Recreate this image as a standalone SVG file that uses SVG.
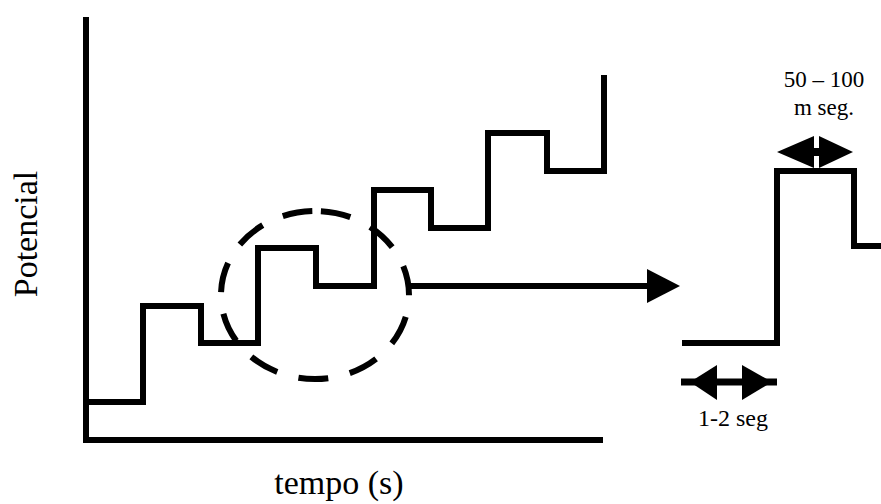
<svg xmlns="http://www.w3.org/2000/svg" width="881" height="504" viewBox="0 0 881 504">
<style>
.ln{fill:none;stroke:#000;stroke-width:6;stroke-linejoin:miter;stroke-linecap:butt}
.hd{fill:#000;stroke:none}
.t{font-family:"Liberation Serif","Times New Roman",serif;fill:#000}
</style>
<rect width="881" height="504" fill="#fff"/>
<g id="axes">
<polyline class="ln" points="86,17 86,440 603,440"/>
</g>
<g id="staircase">
<polyline class="ln" points="86,402 143,402 143,306 201,306 201,343 258,343 258,248 316,248 316,286 374,286 374,190 431,190 431,228 488,228 488,133 547,133 547,171 604,171 604,75"/>
</g>
<g id="zoom-circle">
<path class="ln" d="M315,211 A94,84 0 1 1 315,379 A94,84 0 1 1 315,211" stroke-dasharray="30 22" stroke-dashoffset="46"/>
</g>
<g id="connectors">
<line class="ln" x1="410" y1="286" x2="648" y2="286"/>
<polygon class="hd" points="647,269 680,286 647,303"/>
</g>
<g id="pulse">
<polyline class="ln" points="682,343 777,343 777,171 854,171 854,246 881,246"/>
</g>
<g id="dim-top">
<line x1="790" y1="152" x2="840" y2="152" stroke="#000" stroke-width="8"/>
<polygon class="hd" points="777,152 814,136 814,168"/>
<polygon class="hd" points="853,152 819,136 819,168"/>
<rect x="814" y="136" width="5" height="10" fill="#fff"/>
<rect x="814" y="158" width="5" height="10" fill="#fff"/>
<text class="t" x="824" y="87" font-size="23" text-anchor="middle">50 – 100</text>
<text class="t" x="824" y="115" font-size="23" text-anchor="middle">m seg.</text>
</g>
<g id="dim-bottom">
<line x1="681" y1="382" x2="777" y2="382" stroke="#000" stroke-width="7"/>
<polygon class="hd" points="690,382 717,365 717,400"/>
<polygon class="hd" points="772,382 742,365 742,400"/>
<text class="t" x="733" y="426" font-size="24" text-anchor="middle">1-2 seg</text>
</g>
<g id="labels">
<text class="t" x="339" y="494" font-size="34" text-anchor="middle">tempo (s)</text>
<text class="t" transform="translate(37,234) rotate(-90)" font-size="34" text-anchor="middle">Potencial</text>
</g>
</svg>
